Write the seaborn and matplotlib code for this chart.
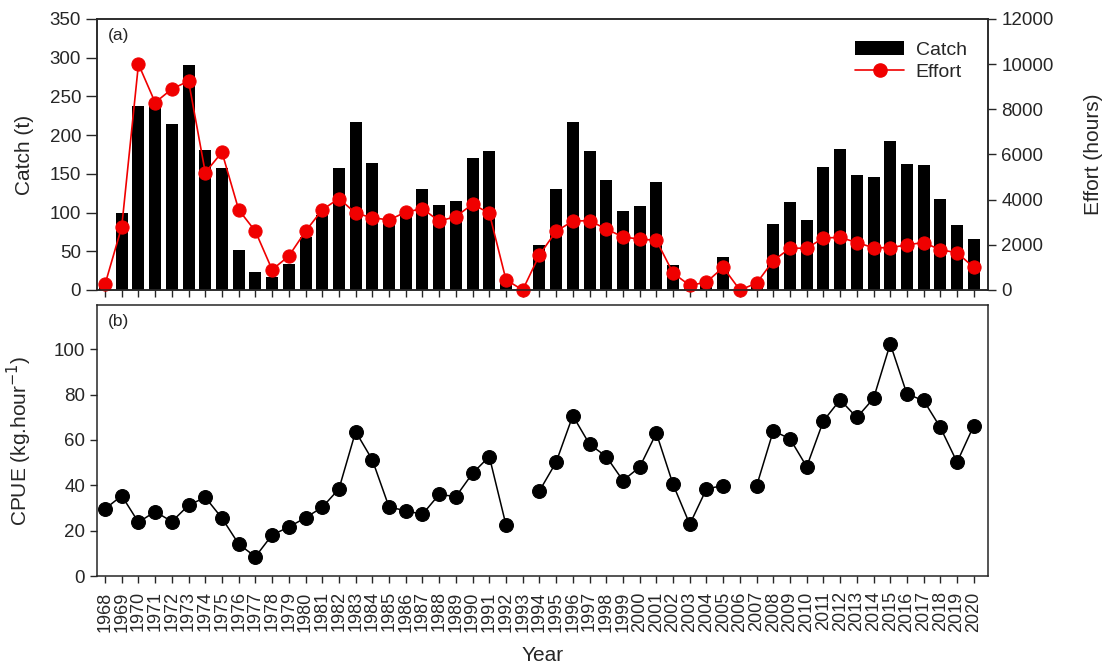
import numpy as np
import pandas as pd
import matplotlib
matplotlib.use("Agg")
import matplotlib.pyplot as plt
from matplotlib.patches import Patch
from matplotlib.lines import Line2D
import seaborn as sns

# ---- data -------------------------------------------------------------
years = list(range(1968, 2021))

catch_t = [7, 100, 238, 237, 214, 290, 181, 157, 52, 23, 17, 33, 69, 97,
           157, 217, 164, 92, 96, 131, 110, 115, 171, 180, 10, 0, 58, 131,
           217, 180, 142, 102, 108, 140, 32, 5, 13, 42, 0, 12, 85, 113, 90,
           159, 182, 149, 146, 192, 163, 162, 117, 84, 66]

effort_h = [250, 2800, 10000, 8300, 8900, 9250, 5200, 6100, 3550, 2600, 900,
            1500, 2600, 3550, 4050, 3400, 3200, 3100, 3450, 3600, 3050, 3250,
            3800, 3400, 450, 0, 1550, 2600, 3050, 3070, 2700, 2350, 2250,
            2200, 750, 200, 350, 1000, 0, 300, 1300, 1850, 1850, 2300, 2330,
            2100, 1870, 1870, 2000, 2100, 1780, 1650, 1000]

cpue = [29.6, 35.4, 23.7, 28.4, 24.0, 31.2, 34.7, 25.5, 14.1, 8.5, 18.1,
        21.6, 25.7, 30.3, 38.4, 63.7, 51.2, 30.4, 28.8, 27.2, 36.0, 35.0,
        45.3, 52.7, 22.5, np.nan, 37.5, 50.2, 70.7, 58.1, 52.7, 42.1, 48.0,
        63.0, 40.4, 22.8, 38.4, 39.9, np.nan, 39.7, 64.0, 60.5, 48.2, 68.4,
        77.7, 69.9, 78.3, 102.4, 80.2, 77.4, 65.5, 50.2, 66.3]

catch_ticks = [0, 50, 100, 150, 200, 250, 300, 350]
effort_ticks = [0, 2000, 4000, 6000, 8000, 10000, 12000]
cpue_ticks = [0, 20, 40, 60, 80, 100]

# ---- style ------------------------------------------------------------
sns.set_theme(style="ticks")
plt.rcParams["font.family"] = ["Liberation Sans", "DejaVu Sans"]
plt.rcParams["axes.linewidth"] = 1.1
plt.rcParams["xtick.major.width"] = 1.0
plt.rcParams["ytick.major.width"] = 1.0
plt.rcParams["xtick.major.size"] = 5
plt.rcParams["ytick.major.size"] = 5

df = pd.DataFrame({"year": years, "catch": catch_t,
                   "effort": effort_h, "cpue": cpue})
# split CPUE into continuous runs so missing years leave gaps in the line
df["run"] = df["cpue"].isna().cumsum()
cp = df.dropna(subset=["cpue"])

fig = plt.figure(figsize=(11.05, 6.68), dpi=100)
ax1 = fig.add_axes([0.0878, 0.5659, 0.8063, 0.4057])
ax2 = fig.add_axes([0.0878, 0.1377, 0.8063, 0.4057])

RED = "#f00000"
xlim = (1967.52, 2020.85)
ytick_fs = 13.5
xtick_fs = 13

# ---- panel (a): catch bars + effort line ------------------------------
sns.barplot(data=df, x="year", y="catch", native_scale=True, color="black",
            width=0.72, saturation=1, edgecolor="none", ax=ax1)
ax1.set_xlim(*xlim)
ax1.set_ylim(0, 350)
ax1.set_yticks(catch_ticks)
ax1.set_xticks(years)
ax1.set_xticklabels([])
ax1.set_xlabel("")
ax1.set_ylabel("Catch (t)", fontsize=15)
ax1.tick_params(axis="y", labelsize=ytick_fs, direction="out", length=8)
ax1.tick_params(axis="x", direction="out", length=5)
ax1.yaxis.set_label_coords(-0.071, 0.5)
ax1.text(0.012, 0.94, "(a)", transform=ax1.transAxes, fontsize=12.5,
         va="center", ha="left")

ax1r = ax1.twinx()
sns.lineplot(data=df, x="year", y="effort", color=RED, marker="o",
             markersize=9.5, markeredgecolor=RED, linewidth=1.2,
             estimator=None, ax=ax1r, clip_on=False)
ax1r.set_xlim(*xlim)
ax1r.set_ylim(0, 12000)
ax1r.set_yticks(effort_ticks)
ax1r.set_ylabel("Effort (hours)", fontsize=15, labelpad=22)
ax1r.tick_params(axis="y", labelsize=ytick_fs, direction="out", length=6)

handles = [Patch(facecolor="black", edgecolor="none"),
           Line2D([], [], color=RED, marker="o", markersize=9.5,
                  linewidth=1.2)]
ax1r.legend(handles, ["Catch", "Effort"], loc="upper right",
            bbox_to_anchor=(0.989, 0.96), frameon=False, fontsize=14,
            handlelength=2.5, handletextpad=0.6, labelspacing=0.22,
            borderaxespad=0.2)

# ---- panel (b): CPUE --------------------------------------------------
sns.lineplot(data=cp, x="year", y="cpue", units="run", estimator=None,
             color="black", marker="o", markersize=10,
             markeredgecolor="black", linewidth=1.1, ax=ax2)
ax2.set_xlim(*xlim)
ax2.set_ylim(0, 119.5)
ax2.set_yticks(cpue_ticks)
ax2.set_xticks(years)
ax2.set_xticklabels([str(y) for y in years], rotation=90)
ax2.set_xlabel("Year", fontsize=15, labelpad=10)
ax2.set_ylabel("CPUE (kg.hour$^{-1}$)", fontsize=15)
ax2.yaxis.set_label_coords(-0.071, 0.5)
ax2.tick_params(axis="y", labelsize=ytick_fs, direction="out", length=5)
ax2.tick_params(axis="x", labelsize=xtick_fs, direction="out", length=5,
                pad=6)
ax2.text(0.012, 0.94, "(b)", transform=ax2.transAxes, fontsize=12.5,
         va="center", ha="left")

fig.savefig("out.png", dpi=100, facecolor="white")
